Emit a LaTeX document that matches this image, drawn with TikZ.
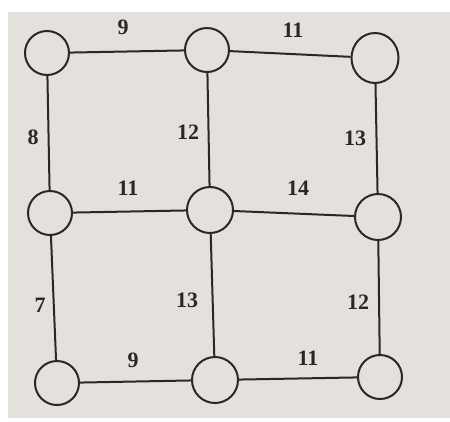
\documentclass[tikz,border=0pt]{standalone}
\usepackage{fontspec}
\setmainfont{Liberation Serif}
\usetikzlibrary{positioning,shapes.geometric}
\definecolor{Paper}{HTML}{E4E1DC}
\definecolor{Ink}{HTML}{2A2826}
\tikzset{vertex/.style={circle,draw=Ink,line width=2pt,fill=Paper,minimum size=44pt,inner sep=0pt},
  edge/.style={draw=Ink,line width=2pt},
  weight/.style={font=\fontsize{22}{22}\selectfont\bfseries,text=Ink,inner sep=0pt}}
\begin{document}
\begin{tikzpicture}[x=1pt,y=-1pt]
  \useasboundingbox (0,0) rectangle (450,421);
  \fill[white] (0,0) rectangle (450,421);
  \fill[Paper] (8,12) rectangle (450,418);
  % vertices, row by row
  \node[vertex] (a) at (47,53) {};
  \node[vertex] (b) at (207,50) {};
  \node[vertex,ellipse,minimum width=47pt,minimum height=50pt] (c) at (375,58) {};
  \node[vertex] (d) at (50,213) {};
  \node[vertex,minimum size=46pt] (e) at (210,210) {};
  \node[vertex,minimum size=46pt] (f) at (378,217) {};
  \node[vertex] (g) at (57,383) {};
  \node[vertex,minimum size=46pt] (h) at (215,380) {};
  \node[vertex] (i) at (380,377) {};
  % edges
  \draw[edge] (a)--(b); \draw[edge] (b)--(c);
  \draw[edge] (d)--(e); \draw[edge] (e)--(f);
  \draw[edge] (g)--(h); \draw[edge] (h)--(i);
  \draw[edge] (a)--(d); \draw[edge] (d)--(g);
  \draw[edge] (b)--(e); \draw[edge] (e)--(h);
  \draw[edge] (c)--(f); \draw[edge] (f)--(i);
  % weights
  \node[weight] (wab) at (123,27) {9};
  \node[weight] (wbc) at (293,30) {11};
  \node[weight] (wad) at (33,137) {8};
  \node[weight] (wbe) at (188,132) {12};
  \node[weight] (wcf) at (355,138) {13};
  \node[weight] (wde) at (128,188) {11};
  \node[weight] (wef) at (298,188) {14};
  \node[weight] (wdg) at (40,305) {7};
  \node[weight] (weh) at (187,300) {13};
  \node[weight] (wfi) at (358,302) {12};
  \node[weight] (wgh) at (133,360) {9};
  \node[weight] (whi) at (308,358) {11};
\end{tikzpicture}
\end{document}
